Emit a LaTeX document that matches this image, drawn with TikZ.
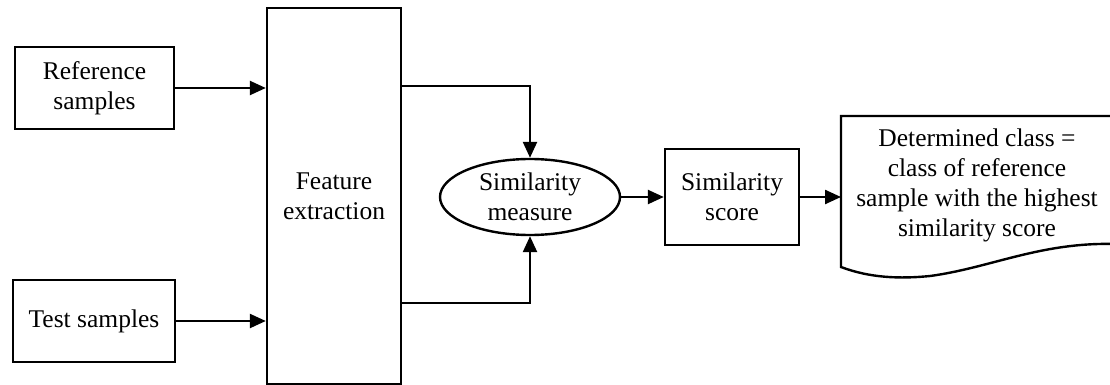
\documentclass[tikz,border=0pt]{standalone}
\usepackage{fontspec}
\setmainfont{Liberation Serif}[Ligatures=TeX]
\usetikzlibrary{shapes.geometric,arrows.meta}
\tikzset{
  base/.style={draw=black, line width=2.4pt, align=center, inner sep=0pt,
    font=\rmfamily\fontsize{25.5}{30}\selectfont},
  boxnode/.style={base, rectangle},
  ellnode/.style={base, ellipse},
  txtnode/.style={align=center, inner sep=0pt, font=\rmfamily\fontsize{25.5}{30}\selectfont},
  arr/.style={line width=2.4pt, -{Triangle[length=16pt,width=14pt]}},
  shapeline/.style={line width=2.4pt}
}
\begin{document}
\begin{tikzpicture}[x=1pt,y=-1pt]
\useasboundingbox (0,0) rectangle (1110,385);
\clip (0,0) rectangle (1110,385);
\node[boxnode, minimum width=159pt, minimum height=82pt] (ref) at (94.5,88) {Reference\\samples};
\node[boxnode, minimum width=162pt, minimum height=82pt] (test) at (94,321) {Test samples};
\node[boxnode, minimum width=134pt, minimum height=376pt] (fe) at (334,196) {Feature\\extraction};
\node[ellnode, minimum width=180pt, minimum height=76pt] (sim) at (530,197) {Similarity\\measure};
\node[boxnode, minimum width=134pt, minimum height=96pt] (score) at (732,197) {Similarity\\score};
\draw[shapeline] (841,116) -- (1115,116) -- (1115,244)
  .. controls (1040,242) and (990,268) .. (930,276)
  .. controls (900,279) and (870,278) .. (841,267) -- cycle;
\coordinate (docin) at (841,197);
\node[txtnode] (doc) at (977,185) {Determined class =\\class of reference\\sample with the highest\\similarity score};
\draw[arr] (ref.east) -- (ref.east -| fe.west);
\draw[arr] (test.east) -- (test.east -| fe.west);
\draw[arr] ([yshift=110pt]fe.east) -| (sim.north);
\draw[arr] ([yshift=-107pt]fe.east) -| (sim.south);
\draw[arr] (sim.east) -- (score.west);
\draw[arr] (score.east) -- (docin);
\end{tikzpicture}
\end{document}
